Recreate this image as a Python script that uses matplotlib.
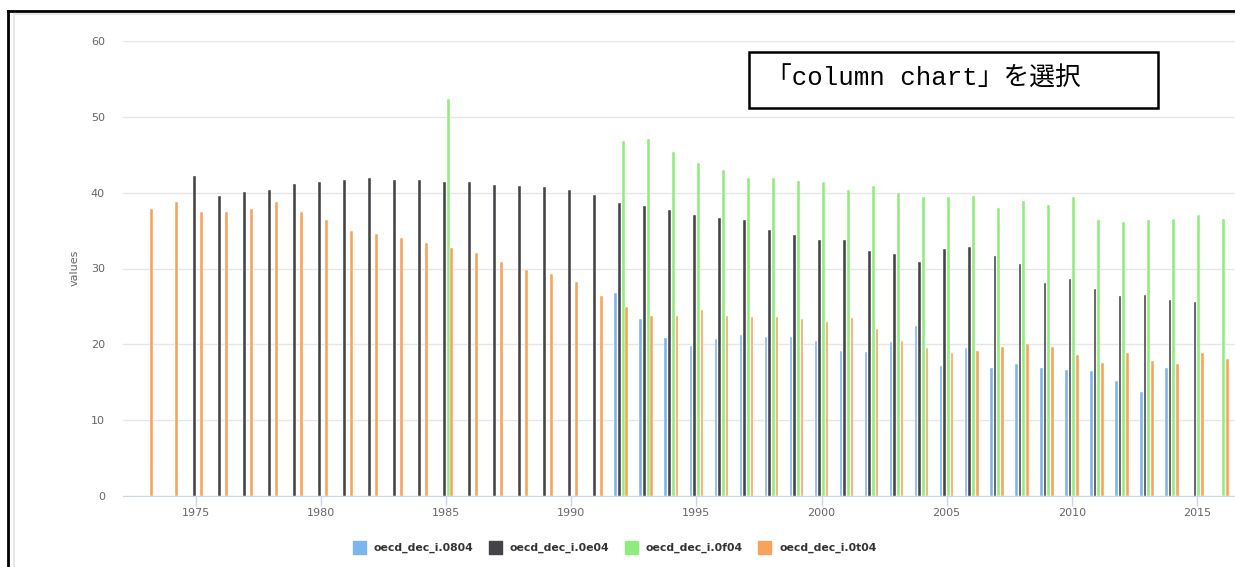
import numpy as np
import matplotlib
matplotlib.use("Agg")
import matplotlib.pyplot as plt
from matplotlib.patches import Rectangle
from matplotlib.lines import Line2D

N = None
years = list(range(1973, 2017))

# oecd_dec_i.0804
s0804 = [N]*19 + [26.8, 23.3, 20.8, 19.8, 20.7, 21.2, 21.0, 21.0, 20.4, 19.1,
                  19.0, 20.3, 22.4, 17.2, 19.5, 16.9, 17.4, 16.9, 16.6, 16.5,
                  15.2, 13.7, 16.9, N, N]
# oecd_dec_i.0e04
s0e04 = [N, N, 42.2, 39.6, 40.1, 40.4, 41.1, 41.4, 41.7, 41.9, 41.7, 41.7,
         41.4, 41.4, 41.0, 40.9, 40.7, 40.4, 39.7, 38.7, 38.2, 37.7, 37.0,
         36.7, 36.4, 35.1, 34.4, 33.8, 33.8, 32.3, 31.9, 30.9, 32.6, 32.8,
         31.6, 30.6, 28.1, 28.6, 27.3, 26.4, 26.5, 25.8, 25.6, N]
# oecd_dec_i.0f04
s0f04 = [N]*12 + [52.4] + [N]*6 + [46.8, 47.1, 45.4, 43.9, 43.0, 42.0, 41.9,
                                   41.6, 41.4, 40.3, 40.9, 39.9, 39.4, 39.4,
                                   39.6, 38.0, 38.9, 38.4, 39.4, 36.4, 36.1,
                                   36.4, 36.5, 37.0, 36.5]
# oecd_dec_i.0t04
s0t04 = [37.9, 38.8, 37.4, 37.5, 37.9, 38.8, 37.4, 36.4, 35.0, 34.5, 34.0,
         33.3, 32.7, 32.0, 30.9, 29.8, 29.3, 28.2, 26.4, 24.9, 23.7, 23.7,
         24.5, 23.7, 23.6, 23.6, 23.3, 23.0, 23.5, 22.0, 20.4, 19.5, 18.8,
         19.1, 19.6, 20.0, 19.6, 18.6, 17.6, 18.9, 17.8, 17.4, 18.8, 18.1]

names = ["oecd_dec_i.0804", "oecd_dec_i.0e04", "oecd_dec_i.0f04", "oecd_dec_i.0t04"]
colors = ["#7cb5ec", "#434348", "#90ed7d", "#f7a35c"]
series = [s0804, s0e04, s0f04, s0t04]

W, H = 1235, 567
fig = plt.figure(figsize=(W/100, H/100), dpi=100)

def fx(px): return px / W
def fy(py): return 1 - py / H

ax = fig.add_axes([fx(123), fy(496), fx(1235) - fx(123), fy(41) - fy(496)])

yrs = np.array(years, dtype=float)
offsets = [-0.22, -0.07, 0.08, 0.22]
for vals, c, off in zip(series, colors, offsets):
    v = np.array([np.nan if x is None else x for x in vals], dtype=float)
    ax.bar(yrs + off, v, width=0.11, color=c, edgecolor="white", linewidth=0.3, zorder=3)

x0 = 1975 + (123 - 196) / 25.02
x1 = 1975 + (1235 - 196) / 25.02
ax.set_xlim(x0, x1)
ax.set_ylim(0, 60)
ax.set_yticks(range(0, 61, 10))
ax.set_xticks(range(1975, 2016, 5))
ax.grid(axis="y", color="#e6e6e6", linewidth=1, zorder=0)
for s in ["top", "right", "left"]:
    ax.spines[s].set_visible(False)
ax.spines["bottom"].set_color("#ccd6eb")
ax.tick_params(axis="y", length=0, pad=13, labelsize=8, labelcolor="#666666")
ax.tick_params(axis="x", length=7, width=1, color="#ccd6eb", pad=2,
               labelsize=8, labelcolor="#666666")
fig.text(fx(75), fy(268), "values", rotation=90, ha="center", va="center",
         fontsize=8, color="#666666")

# legend
leg_sq = [353, 489, 625, 758]
leg_tx = [373, 510, 646, 779]
for sq, tx, c, n in zip(leg_sq, leg_tx, colors, names):
    fig.patches.append(Rectangle((fx(sq), fy(554)), fx(13), 13 / H, color=c,
                                 transform=fig.transFigure, figure=fig))
    fig.text(fx(tx), fy(548), n, ha="left", va="center", fontsize=7.8,
             fontweight="bold", color="#333333")

# annotation box
fig.patches.append(Rectangle((fx(749), fy(108)), fx(1158) - fx(749), 56 / H,
                             fill=False, edgecolor="black", linewidth=1.8,
                             transform=fig.transFigure, figure=fig))
fig.text(fx(766), fy(79), "「column chart」を選択", ha="left", va="center",
         fontsize=18.5, family=["Liberation Mono", "Noto Sans CJK JP"], color="black")

# screenshot frame
fig.lines.append(Line2D([fx(8), fx(8)], [0, fy(11)], color="black", linewidth=2,
                        transform=fig.transFigure))
fig.lines.append(Line2D([fx(8), 1], [fy(11), fy(11)], color="black", linewidth=2,
                        transform=fig.transFigure))
fig.lines.append(Line2D([fx(14), fx(14)], [0, fy(14)], color="#e8e8e8", linewidth=1.5,
                        transform=fig.transFigure))
fig.lines.append(Line2D([fx(14), 1], [fy(14), fy(14)], color="#e8e8e8", linewidth=1.5,
                        transform=fig.transFigure))

fig.savefig("out.png", dpi=100)
